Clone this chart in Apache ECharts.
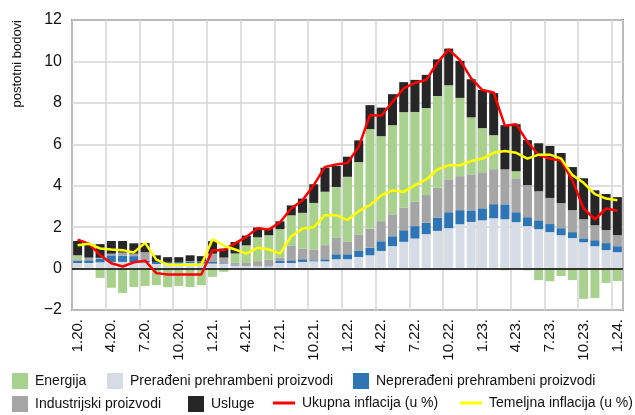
<!DOCTYPE html>
<html><head><meta charset="utf-8">
<script src="https://cdn.jsdelivr.net/npm/echarts@6/dist/echarts.min.js"></script>
<style>html,body{margin:0;padding:0;background:#fff}#c{width:635px;height:415px}</style>
</head><body><div id="c"></div>
<script>
const categories = ['1.20.','2.20.','3.20.','4.20.','5.20.','6.20.','7.20.','8.20.','9.20.','10.20.','11.20.','12.20.',
'1.21.','2.21.','3.21.','4.21.','5.21.','6.21.','7.21.','8.21.','9.21.','10.21.','11.21.','12.21.',
'1.22.','2.22.','3.22.','4.22.','5.22.','6.22.','7.22.','8.22.','9.22.','10.22.','11.22.','12.22.',
'1.23.','2.23.','3.23.','4.23.','5.23.','6.23.','7.23.','8.23.','9.23.','10.23.','11.23.','12.23.','1.24.'];
const preradeni = [0.27,0.27,0.30,0.32,0.32,0.30,0.29,0.22,0.24,0.24,0.26,0.24,
0.24,0.22,0.15,0.12,0.11,0.11,0.27,0.27,0.32,0.35,0.35,0.45,
0.45,0.56,0.64,0.85,1.08,1.29,1.45,1.66,1.82,1.95,2.14,2.25,
2.33,2.43,2.38,2.24,2.05,1.90,1.76,1.61,1.47,1.27,1.08,0.89,0.79];
const nepreradeni = [0.10,0.13,0.17,0.32,0.30,0.30,0.10,0.10,0.08,0.08,0.08,0.08,
0.08,0.03,0.03,0.00,0.00,0.02,0.10,0.13,0.13,0.05,0.10,0.24,
0.24,0.29,0.37,0.47,0.48,0.56,0.60,0.55,0.63,0.77,0.68,0.56,
0.58,0.68,0.72,0.48,0.43,0.43,0.39,0.34,0.29,0.19,0.29,0.34,0.29];
const industrijski = [0.08,0.13,0.05,0.08,0.15,0.12,0.40,0.00,0.00,0.00,0.02,0.02,
0.40,0.28,0.10,0.15,0.25,0.30,0.15,0.72,0.52,0.52,0.68,0.79,
0.60,0.80,0.92,0.97,1.06,1.10,1.18,1.34,1.45,1.59,1.64,1.74,
1.74,1.69,1.69,1.64,1.55,1.40,1.26,1.21,1.06,0.92,0.72,0.63,0.53];
const energija = [0.19,0.00,-0.45,-0.93,-1.18,-0.89,-0.84,-0.80,-0.90,-0.84,-0.89,-0.80,
-0.40,-0.16,0.45,0.85,1.15,1.18,1.38,1.45,1.72,2.25,2.58,2.46,
3.14,3.49,4.80,4.10,4.30,4.60,4.33,4.20,4.43,4.54,3.78,2.75,
2.13,1.64,-0.08,0.34,-0.08,-0.56,-0.61,-0.36,-0.56,-1.46,-1.42,-0.69,-0.60];
const usluge = [0.69,0.65,0.66,0.61,0.56,0.50,0.44,0.32,0.23,0.23,0.28,0.26,
0.60,0.44,0.55,0.47,0.47,0.33,0.38,0.48,0.69,0.90,1.16,1.01,
0.97,1.05,1.16,1.38,1.50,1.45,1.55,1.60,1.77,1.77,1.79,1.84,
1.84,2.03,2.13,2.27,2.17,2.32,2.51,2.42,2.08,1.98,1.69,1.74,1.84];
const ukupna = [1.40,1.20,0.65,0.26,0.10,0.30,0.38,-0.22,-0.29,-0.29,-0.29,-0.29,
0.89,0.89,1.22,1.53,1.95,1.88,2.24,2.90,3.30,4.03,4.91,5.02,
5.10,5.88,7.41,7.38,8.05,8.70,8.97,9.10,9.95,10.58,10.06,9.18,
8.62,8.50,6.89,6.97,6.12,5.48,5.31,5.20,4.27,2.90,2.38,2.90,2.79];
const temeljna = [1.13,1.20,0.97,0.92,0.89,0.78,1.24,0.43,0.19,0.19,0.19,0.19,
1.42,1.10,0.92,0.72,1.00,0.92,0.72,1.56,1.93,2.00,2.58,2.58,
2.34,2.77,3.06,3.54,3.78,3.70,4.03,4.30,4.78,4.99,4.99,5.19,
5.31,5.59,5.68,5.59,5.31,5.50,5.50,5.31,4.51,4.14,3.59,3.38,3.30];
const yTicks = {min:-2, max:12, step:2};
const names = ['Energija','Prerađeni prehrambeni proizvodi','Neprerađeni prehrambeni proizvodi','Industrijski proizvodi','Usluge','Ukupna inflacija (u %)','Temeljna inflacija (u %)'];
const colors = {e:'#a9d18e', p:'#d6dce5', n:'#2e75b6', i:'#a5a5a5', u:'#262626', r:'#ff0000', t:'#ffff00'};

const FONT = '"Liberation Sans Narrow","Arial Narrow","Liberation Sans",sans-serif';
const chart = echarts.init(document.getElementById('c'), null, {renderer:'canvas'});
function leg(name, left, top, icon, w, h){
  return {data:[{name:name, icon:icon}], left:left, top:top, itemWidth:w, itemHeight:h, padding:0, itemGap:0,
    selectedMode:false, textStyle:{fontFamily:FONT, fontSize:14, color:'#111', padding:[0,0,0,2]}};
}
function bar(name, data, color){
  return {name:name, type:'bar', stack:'s', data:data, itemStyle:{color:color}, barCategoryGap:'20%', animation:false};
}
const usl = bar(names[4], usluge, colors.u);
usl.markLine = {silent:true, symbol:['none','none'], label:{show:false}, data:[{yAxis:0}],
  lineStyle:{color:'#000', width:1.5, type:'solid'}, animation:false};
chart.setOption({
  animation:false,
  grid:{left:72, right:12, top:20, bottom:105, show:true, borderColor:'#404040', borderWidth:1.5, backgroundColor:'transparent'},
  legend:[
    leg(names[0], 12, 373, 'rect', 16, 16),
    leg(names[1], 107, 373, 'rect', 16, 16),
    leg(names[2], 353, 373, 'rect', 16, 16),
    leg(names[3], 12, 396, 'rect', 16, 16),
    leg(names[4], 188, 396, 'rect', 16, 16),
    leg(names[5], 273, 396, 'rect', 22, 3),
    leg(names[6], 460, 396, 'rect', 22, 3)
  ],
  xAxis:{type:'category', data:categories, boundaryGap:true,
    axisLine:{show:false}, axisTick:{show:false},
    axisLabel:{interval:2, rotate:90, fontFamily:FONT, fontSize:15, color:'#111', margin:9},
    splitLine:{show:true, interval:2, lineStyle:{color:'#d4d4d4', width:1.5}}},
  yAxis:{type:'value', min:yTicks.min, max:yTicks.max, interval:yTicks.step,
    axisLine:{show:false}, axisTick:{show:false},
    axisLabel:{fontFamily:FONT, fontSize:16, color:'#111', margin:10, formatter:v => v < 0 ? '\u2212' + Math.abs(v) : String(v)},
    splitLine:{show:true, lineStyle:{color:'#d4d4d4', width:1.5}}},
  graphic:[{type:'text', x:17, y:20, rotation:Math.PI/2,
    style:{text:'postotni bodovi', fontFamily:FONT, fontSize:13, fill:'#111', align:'right', verticalAlign:'middle', textAlign:'right', textVerticalAlign:'middle'}}],
  series:[
    bar(names[1], preradeni, colors.p),
    bar(names[2], nepreradeni, colors.n),
    bar(names[3], industrijski, colors.i),
    bar(names[0], energija, colors.e),
    usl,
    {name:names[5], type:'line', data:ukupna, symbol:'none', z:5, color:colors.r, itemStyle:{color:colors.r}, lineStyle:{color:colors.r, width:2.5}},
    {name:names[6], type:'line', data:temeljna, symbol:'none', z:6, color:colors.t, itemStyle:{color:colors.t}, lineStyle:{color:colors.t, width:2.5}}
  ]
});
</script></body></html>
